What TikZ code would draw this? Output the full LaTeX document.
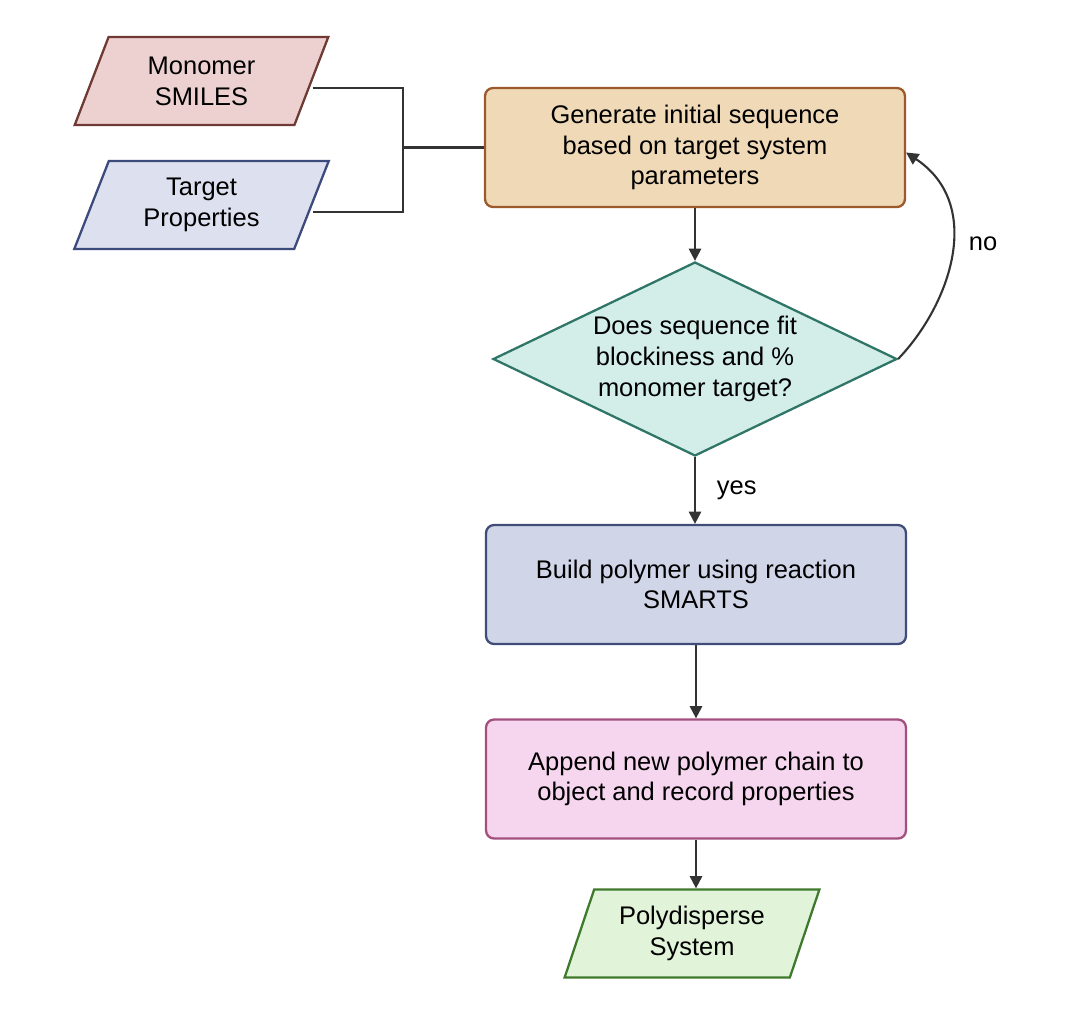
\documentclass[tikz,border=0pt]{standalone}
\usepackage{fontspec}
\setmainfont{Liberation Sans}
\usetikzlibrary{shapes.geometric,arrows.meta}
\definecolor{monofill}{HTML}{EDD1D1}
\definecolor{monoline}{HTML}{6E3A33}
\definecolor{targfill}{HTML}{DDE1EF}
\definecolor{targline}{HTML}{3D4A7C}
\definecolor{genfill}{HTML}{EFD9B7}
\definecolor{genline}{HTML}{9C5A2C}
\definecolor{decfill}{HTML}{D3EDE8}
\definecolor{decline}{HTML}{2F7668}
\definecolor{buildfill}{HTML}{D0D5E8}
\definecolor{buildline}{HTML}{3F4D78}
\definecolor{appfill}{HTML}{F6D5EE}
\definecolor{appline}{HTML}{A3507E}
\definecolor{polyfill}{HTML}{E1F3D9}
\definecolor{polyline}{HTML}{3F7A2C}
\definecolor{wire}{HTML}{333333}
\tikzset{
  txt/.style={font=\fontsize{14.5}{17.5}\selectfont, align=center, text=black},
  iobox/.style={txt, trapezium, trapezium left angle=68, trapezium right angle=112,
    trapezium stretches=true, minimum width=5.1cm, minimum height=1.76cm,
    inner sep=0pt, line width=1.3pt},
  stepbox/.style={txt, rectangle, rounded corners=0.16cm, minimum width=8.4cm,
    minimum height=2.38cm, line width=1.3pt},
  decbox/.style={txt, diamond, aspect=2.08, minimum width=8.08cm, minimum height=3.88cm,
    inner sep=0pt, line width=1.3pt},
  flow/.style={wire, line width=1.2pt, -{Triangle[length=7pt,width=7pt]}},
  link/.style={wire, line width=1.2pt}
}
\begin{document}
\begin{tikzpicture}[x=0.02cm, y=-0.02cm]
  \useasboundingbox (0,0) rectangle (1066,1029);
  % inputs
  \node (mono) at (201.5,81) [iobox, fill=monofill, draw=monoline] {Monomer\\SMILES};
  \node (targ) at (201.5,205) [iobox, fill=targfill, draw=targline] {Target\\Properties};
  % main column
  \node (gen) at (695,147.5) [stepbox, fill=genfill, draw=genline] {Generate initial sequence\\based on target system\\parameters};
  \node (dec) at (695,359) [decbox, fill=decfill, draw=decline] {Does sequence fit\\blockiness and \%\\monomer target?};
  \node (build) at (696,584.5) [stepbox, fill=buildfill, draw=buildline] {Build polymer using reaction\\SMARTS};
  \node (app) at (696,779) [stepbox, fill=appfill, draw=appline] {Append new polymer chain to\\object and record properties};
  \node (poly) at (692,933.5) [iobox, fill=polyfill, draw=polyline] {Polydisperse\\System};
  % joining the inputs
  \coordinate (jn) at (403,147.5);
  \draw[link] ([yshift=-0.14cm]mono.east) -| (jn) |- ([yshift=-0.14cm]targ.east);
  \draw[link] (jn) -- (gen.west);
  % arrows
  \draw[flow] (gen.south) -- (dec.north);
  \draw[flow] (dec.south) -- node (yes) [right, txt, xshift=0.3cm] {yes} (dec.south |- build.north);
  \draw[flow] (build.south) -- (app.north);
  \draw[flow] (app.south) -- (app.south |- poly.north);
  \draw[flow] (dec.east) .. controls (950,305) and (985,205) .. ([yshift=-0.1cm]gen.east);
  \node (no) at (983,244) [txt] {no};
\end{tikzpicture}
\end{document}
